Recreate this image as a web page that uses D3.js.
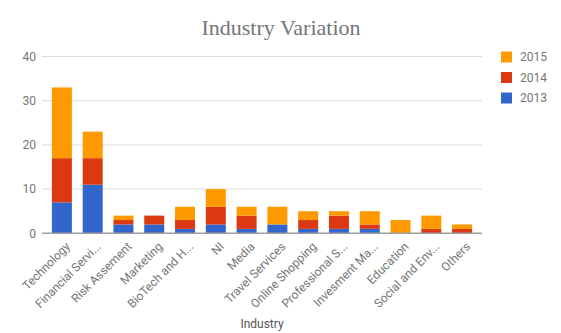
<!DOCTYPE html>
<html><head><meta charset="utf-8">
<script src="https://cdn.jsdelivr.net/npm/d3@7"></script>
<style>body{margin:0;background:#fff}svg{display:block}</style>
</head><body>
<script>
const categories = ["Technology","Financial Servi...","Risk Assement","Marketing","BioTech and H...","NI","Media","Travel Services","Online Shopping","Professional S...","Invesment Ma...","Education","Social and Env...","Others"];
const v2013 = [7,11,2,2,1,2,1,2,1,1,1,0,0,0];
const v2014 = [10,6,1,2,2,4,3,0,2,3,1,0,1,1];
const v2015 = [16,6,1,0,3,4,2,4,2,1,3,3,3,1];
const seriesNames = ["2013","2014","2015"];
const colors = ["#3366cc","#dc3912","#ff9900"];
const yTicks = [0,10,20,30,40];

const W = 561, H = 333;
const svg = d3.select("body").append("svg").attr("width", W).attr("height", H);
const font = "Roboto, 'Noto Sans', sans-serif";

const x = d3.scaleBand().domain(categories).range([46.5, 477.5]).paddingInner(0.35).paddingOuter(0.175);
const y = d3.scaleLinear().domain([0, 40]).range([233.3, 56.5]);

// gridlines
svg.append("g").selectAll("line").data(yTicks.filter(d => d > 0)).join("line")
  .attr("x1", 42).attr("x2", 482)
  .attr("y1", d => y(d)).attr("y2", d => y(d))
  .attr("stroke", "#dcdcdc").attr("stroke-width", 1);

// y tick labels
svg.append("g").selectAll("text").data(yTicks).join("text")
  .attr("x", 36).attr("y", d => y(d)).attr("dy", "0.35em")
  .attr("text-anchor", "end").attr("font-family", font).attr("font-size", 12)
  .attr("fill", "#757575").text(d => d);

// stacked data
const rows = categories.map((c, i) => ({cat: c, "2013": v2013[i], "2014": v2014[i], "2015": v2015[i]}));
const stack = d3.stack().keys(seriesNames)(rows);

svg.append("g").selectAll("g").data(stack).join("g")
  .attr("fill", (d, i) => colors[i])
  .selectAll("rect").data(d => d).join("rect")
  .attr("x", d => x(d.data.cat))
  .attr("width", x.bandwidth())
  .attr("y", d => y(d[1]))
  .attr("height", d => Math.max(0, y(d[0]) - y(d[1])));

// baseline
svg.append("line").attr("x1", 42).attr("x2", 482).attr("y1", y(0)).attr("y2", y(0))
  .attr("stroke", "#9e9e9e").attr("stroke-width", 1.5);

// x labels
svg.append("g").selectAll("text").data(categories).join("text")
  .attr("transform", d => `translate(${x(d) + x.bandwidth() / 2 + 6},${y(0) + 11}) rotate(-45)`)
  .attr("text-anchor", "end").attr("dy", "0.35em")
  .attr("font-family", font).attr("font-size", 12).attr("fill", "#757575")
  .text(d => d);

// title
svg.append("text").attr("x", 281).attr("y", 35).attr("text-anchor", "middle")
  .attr("font-family", "'Liberation Serif', 'DejaVu Serif', serif").attr("font-size", 22)
  .attr("fill", "#757575").text("Industry Variation");

// axis title
svg.append("text").attr("x", 262).attr("y", 328).attr("text-anchor", "middle")
  .attr("font-family", font).attr("font-size", 12).attr("fill", "#555").text("Industry");

// legend
const legendOrder = [2, 1, 0];
const lg = svg.append("g").selectAll("g").data(legendOrder).join("g")
  .attr("transform", (d, i) => `translate(501,${57 + i * 20.5})`);
lg.append("rect").attr("x", 0).attr("y", -5.5).attr("width", 11).attr("height", 11)
  .attr("fill", d => colors[d]);
lg.append("text").attr("x", 19).attr("dy", "0.35em").attr("font-family", font)
  .attr("font-size", 12).attr("fill", "#757575").text(d => seriesNames[d]);
</script>
</body></html>
